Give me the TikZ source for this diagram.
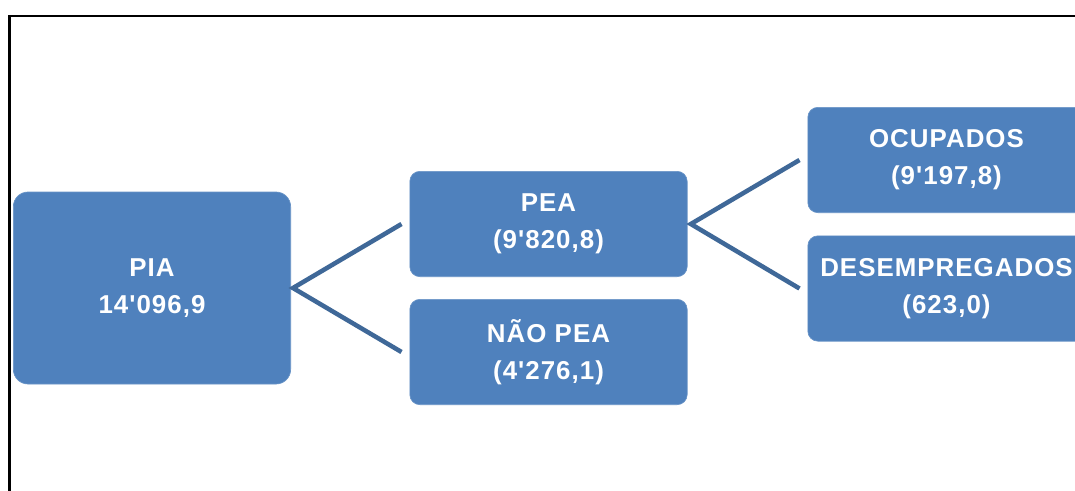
\documentclass[tikz,border=0pt]{standalone}
\usepackage{fontspec}
\newfontfamily\boxfont{Liberation Sans}[Ligatures=TeXOff, LetterSpace=4]
\definecolor{boxblue}{HTML}{4F81BD}
\definecolor{linkblue}{HTML}{3F6898}
\tikzset{
  box/.style={draw=boxblue!85!white, line width=0.5pt, fill=boxblue, text=white, align=center,
    font=\boxfont\bfseries\fontsize{19.4}{27.75}\selectfont, inner sep=0pt},
  bigbox/.style={box, rounded corners=11pt, minimum width=208pt, minimum height=144pt},
  smallbox/.style={box, rounded corners=7.5pt, minimum width=208pt, minimum height=79pt},
  link/.style={draw=linkblue, line width=3.4pt},
}
\begin{document}
\begin{tikzpicture}[x=0.75pt,y=-0.75pt]
\useasboundingbox (0,0) rectangle (1075,490);
\clip (0,0) rectangle (1075,490);
\fill[white] (0,0) rectangle (1075,490);
\draw[line width=1.6pt, black] (9.5,510) -- (9.5,16) -- (1100,16);
\node[bigbox] (pia) at (152,288) {PIA\\14'096,9};
\node[smallbox] (pea) at (548.5,224) {PEA\\(9'820,8)};
\node[smallbox] (npea) at (548.5,352) {NÃO PEA\\(4'276,1)};
\node[smallbox] (ocup) at (946.5,160) {OCUPADOS\\(9'197,8)};
\node[smallbox] (desemp) at (946.5,288.5) {DESEMPREGADOS\\(623,0)};
\coordinate (j1) at ([xshift=1.5]pia.east);
\coordinate (j2) at ([xshift=2.5]pea.east);
\draw[link] ([xshift=-6]pea.west) -- (j1) -- ([xshift=-6]npea.west);
\draw[link] ([xshift=-6]ocup.west) -- (j2) -- ([xshift=-6]desemp.west);
\end{tikzpicture}
\end{document}
